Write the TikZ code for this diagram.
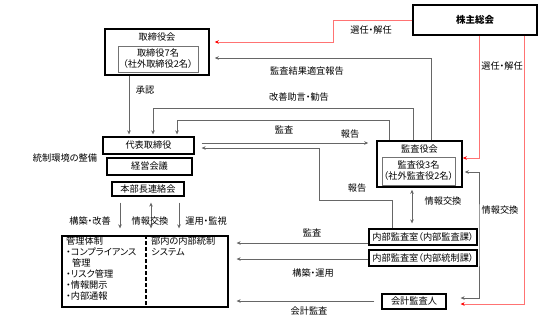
\documentclass[tikz,border=0pt]{standalone}
\usepackage{fontspec}
\setmainfont{Noto Sans CJK JP}[RawFeature=+palt]
\usetikzlibrary{
  calc, % For shifted points
  arrows.meta % For arrow tips
}

\begin{document}
\begin{tikzpicture}[
      x=1pt, y=-1pt, % one unit = one pixel, y pointing down
      font=\fontsize{9.2}{11}\selectfont,
      >={Stealth[length=4pt,width=3.6pt]}, % Default arrow tip
      box/.style={draw, line width=1.3pt, inner sep=0pt, minimum height=16pt},
      bigbox/.style={draw, line width=1.6pt, inner sep=0pt},
      inbox/.style={draw=black!55, line width=0.8pt, inner sep=0pt, align=center},
      conn/.style={black!60, line width=0.9pt, ->}, % Style for connectors
      sel/.style={red!55, line width=0.9pt, -{Stealth[length=4pt,width=3.6pt,red]}},
      lbl/.style={inner sep=1pt},
    ]

    \useasboundingbox (0,0) rectangle (548,333);

    % Kästen
    \node[bigbox, minimum width=124pt, minimum height=30pt, font=\fontsize{9.5}{11}\selectfont\bfseries] (kabu) at (475,20) {株主総会};

    \node[bigbox, minimum width=104pt, minimum height=46pt] (tkai) at (157,52) {};
    \node (tkaiT) at (157,37) {取締役会};
    \node[inbox, minimum width=80pt, minimum height=26pt] (tmem) at (158,59) {取締役7名\\（社外取締役2名）};

    \node[box, minimum width=91pt, minimum height=17pt] (daihyo) at (148.5,145.5) {代表取締役};
    \node[box, minimum width=85pt, minimum height=17pt] (keiei) at (149.5,166.5) {経営会議};
    \node[box, minimum width=72pt, minimum height=14pt] (honbu) at (148,189) {本部長連絡会};
    \node (tousei) at (65,158) {統制環境の整備};

    \node[bigbox, minimum width=85pt, minimum height=46pt] (kkai) at (419.5,164) {};
    \node (kkaiT) at (419.5,149) {監査役会};
    \node[inbox, minimum width=73pt, minimum height=28pt] (kmem) at (418.5,171) {監査役3名\\（社外監査役2名）};

    \node[box, minimum width=108pt] (naibu1) at (423,237) {内部監査室（内部監査課）};
    \node[box, minimum width=108pt] (naibu2) at (423,258) {内部監査室（内部統制課）};
    \node[box, minimum width=64pt, minimum height=15pt] (kaikei) at (414,301.5) {会計監査人};

    % Interne Kontrolle
    \node[draw, line width=1.3pt, minimum width=166pt, minimum height=71pt] (sys) at (145,271.5) {};
    \draw[line width=1.3pt, dash pattern=on 4pt off 2pt] ($(sys.north)+(1,0)$) -- ($(sys.south)+(1,0)$);
    \node[anchor=north west, align=left, inner sep=0pt] (kanri) at (66,237)
      {管理体制\\・コンプライアンス\\\hspace{6pt}管理\\・リスク管理\\・情報開示\\・内部通報};
    \node[anchor=north west, align=left, inner sep=0pt] (bunai) at (151,237) {部内の内部統制\\システム};

    % Wahl und Abberufung
    \draw[sel, shorten >=5pt] (kabu.west) -| (333,42) -- ($(tkai.east)+(0,-10)$);
    \node[lbl] at (371,30) {選任・解任};
    \draw[sel] ($(kabu.south)+(4,0)$) |- ($(kkai.east)+(0,-6)$);
    \node[lbl] at (502,66) {選任・解任};
    \draw[sel, shorten >=14pt] ($(kabu.south)+(49,0)$) |- ($(kaikei.east)+(0,2.5)$);

    % Prüfung und Bericht
    \draw[conn, shorten >=5pt] ($(kkai.north east)+(-31,0)$) |- ($(tkai.east)+(0,6)$);
    \node[lbl] at (307,71) {監査結果適宜報告};
    \draw[conn, shorten >=2pt] ($(kkai.north)+(-6.5,0)$) |- (153,108) -- ($(daihyo.north)+(4.5,0)$);
    \node[lbl] at (299,97) {改善助言・勧告};
    \draw[conn, shorten >=2pt] ($(kkai.north)+(-30.5,0)$) |- (177,120) -- ($(daihyo.north)+(28.5,0)$);
    \node[lbl] at (284,130) {監査};
    \draw[conn, shorten >=2pt] ($(tkai.south)+(-28,0)$) -- ($(daihyo.north)+(-19.5,0)$);
    \node[lbl] at (145,90) {承認};

    \draw[conn, shorten <=7pt, shorten >=8pt] ($(daihyo.east)+(0,-2.5)$) -- ($(kkai.west)+(0,-21)$);
    \node[lbl] at (350,134) {報告};
    \draw[conn, shorten >=7pt] ($(naibu1.north)+(-31,0)$) |- (319,200) |- ($(daihyo.east)+(0,2.5)$);
    \node[lbl] at (357,188) {報告};

    % Informationsaustausch
    \draw[conn, <->, shorten <=2pt, shorten >=5pt] ($(kkai.south)+(-7.5,0)$) -- ($(naibu1.north)+(-11,0)$);
    \node[lbl] at (443,201) {情報交換};
    \draw[conn, <->, shorten <=2pt, shorten >=14pt] ($(kkai.east)+(0,8)$) -| (479,235) |- ($(kaikei.east)+(0,-3.5)$);
    \node[lbl] at (500,210) {情報交換};

    % nach links in die Kontrolle
    \foreach \src/\dy/\gap in {naibu1/6/0pt, naibu2/1/0pt, kaikei/-0.5/7pt}
    \draw[conn, shorten <=\gap, shorten >=8pt] ($(\src.west)+(0,\dy)$) coordinate (p) -- (p -| sys.east);
    \node[lbl] at (312,233) {監査};
    \node[lbl] at (313,273) {構築・運用};
    \node[lbl] at (309,311) {会計監査};

    % Konzernleitung nach unten
    \foreach \dx/\tip in {-28/->, 3/<->, 31/->}
    \draw[conn, \tip, shorten <=6pt, shorten >=7pt] ($(honbu.south)+(\dx,0)$) coordinate (q) -- (q |- sys.north);
    \node[lbl] at (90,221) {構築・改善};
    \node[lbl] at (150,221) {情報交換};
    \node[lbl] at (206,221) {運用・監視};

  \end{tikzpicture}
\end{document}
